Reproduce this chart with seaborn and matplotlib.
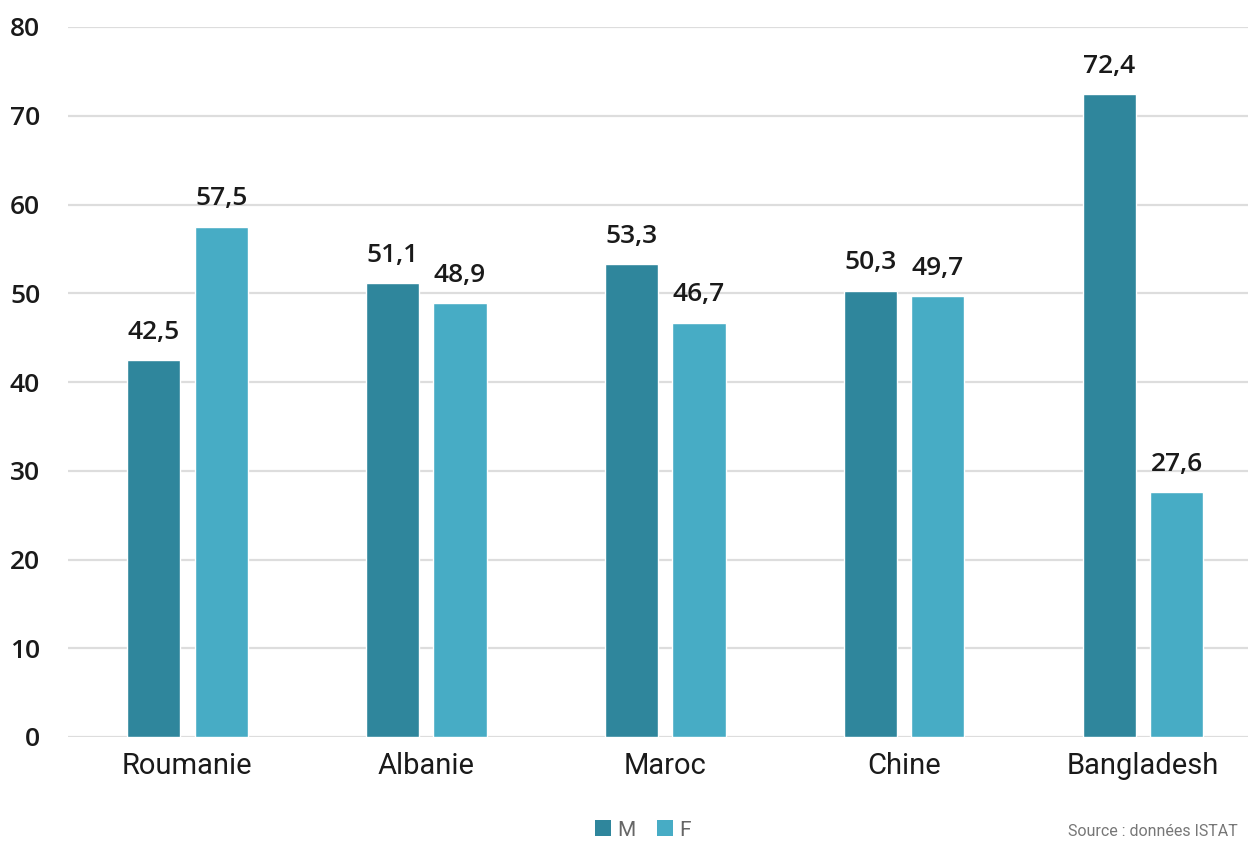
import matplotlib
matplotlib.use("Agg")
import matplotlib.pyplot as plt
import seaborn as sns
import pandas as pd
from matplotlib.patches import Patch

countries = ["Roumanie", "Albanie", "Maroc", "Chine", "Bangladesh"]
male = [42.5, 51.1, 53.3, 50.3, 72.4]
female = [57.5, 48.9, 46.7, 49.7, 27.6]
series = ["M", "F"]
yticks = [0, 10, 20, 30, 40, 50, 60, 70, 80]
source_text = "Source : données ISTAT"

df = pd.DataFrame({
    "pays": countries * 2,
    "sexe": ["M"] * len(countries) + ["F"] * len(countries),
    "val": male + female,
})

sns.set_theme(style="white")
plt.rcParams["font.family"] = ["Open Sans", "DejaVu Sans"]

colors = {"M": "#2f869c", "F": "#47acc5"}

fig = plt.figure(figsize=(12.48, 8.41), dpi=100)
ax = fig.add_axes([68 / 1248, 104 / 841, (1248 - 68) / 1248, (737 - 27) / 841])

sns.barplot(data=df, x="pays", y="val", hue="sexe", hue_order=series,
            palette=colors, width=0.565, gap=0.21, ax=ax, legend=False,
            saturation=1, errorbar=None)

for c in ax.containers:
    ax.bar_label(c, labels=[f"{v:.1f}".replace(".", ",") for v in c.datavalues],
                 padding=11, fontsize=19, color="#1a1a1a", family="Open Sans",
                 fontweight="semibold")

ax.set_ylim(0, 80)
ax.set_xlim(-0.5, 4.44)
ax.set_yticks(yticks)
ax.set_yticklabels([str(t) for t in yticks], fontsize=19, color="#1a1a1a",
                   family="Open Sans", fontweight="semibold")
ax.set_xticklabels(countries, fontsize=21, color="#1a1a1a", family="Roboto")
ax.tick_params(axis="y", length=0, pad=20)
ax.tick_params(axis="x", length=0, pad=11)
ax.set_xlabel("")
ax.set_ylabel("")
ax.grid(axis="y", color="#dddddd", linewidth=1.6)
ax.set_axisbelow(True)
for s in ax.spines.values():
    s.set_visible(False)

handles = [Patch(facecolor=colors[s], edgecolor="none", label=s) for s in series]
leg = fig.legend(handles=handles, loc="center", bbox_to_anchor=(643 / 1248, 1 - 830 / 841),
                 ncol=2, frameon=False, handlelength=0.8, handleheight=0.8,
                 handletextpad=0.3, columnspacing=1.0,
                 prop={"family": "Roboto", "size": 15})
for t in leg.get_texts():
    t.set_color("#666666")

fig.text(1068 / 1248, 2 / 841, source_text, fontsize=11.5, color="#777777",
         family="Roboto", ha="left", va="bottom")

fig.savefig("out.png", dpi=100)
